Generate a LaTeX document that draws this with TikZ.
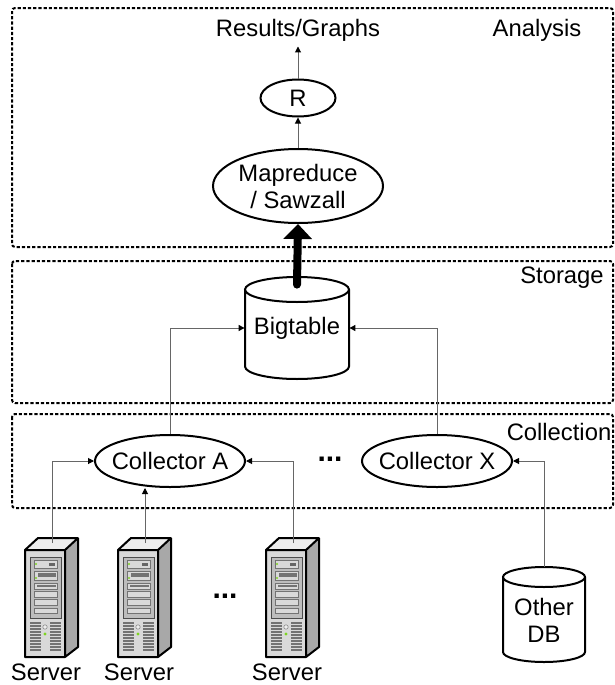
\documentclass[tikz,border=0pt]{standalone}
\usepackage{fontspec}
\setmainfont{Liberation Sans}
\usetikzlibrary{shapes.geometric,arrows.meta}
\definecolor{srvfront}{HTML}{D9D9D9}
\definecolor{srvtop}{HTML}{EDEDED}
\definecolor{srvside}{HTML}{A8A8A8}
\definecolor{srvbay}{HTML}{BDBDBD}
\definecolor{srvled}{HTML}{7ED321}
\begin{document}
\begin{tikzpicture}[x=0.5pt, y=-0.5pt,
    every node/.style={font=\fontsize{11.9}{13.5}\selectfont},
    box/.style={line width=1pt, dash pattern=on 1.6pt off 1pt, rounded corners=1.5pt},
    oval/.style={draw, ellipse, line width=1pt, inner sep=0pt, align=center},
    drum/.style={line width=1pt, fill=white},
    dots/.style={font=\fontsize{15}{15}\bfseries},
    conn/.style={draw=black!60, line width=0.5pt, -{Triangle[length=3pt,width=3pt,color=black]}}]

    \useasboundingbox (0,0) rectangle (615,685);

    % layers
    \draw[box] (12,8) rectangle (613,247);
    \draw[box] (12,261) rectangle (613,403);
    \draw[box] (12,414) rectangle (613,508);
    \node (ana) at (537,30) {Analysis};
    \node (sto) at (562,278) {Storage};
    \node (col) at (559,432) {Collection};

    % databases
    \draw[drum] (245,289.5) -- (245,366.5) arc[start angle=180, end angle=360, x radius=26pt, y radius=6.25pt]
      -- (349,289.5) (297,289.5) ellipse [x radius=26pt, y radius=6.25pt];
    \draw[drum] (503,577) -- (503,652) arc[start angle=180, end angle=360, x radius=20.5pt, y radius=5pt]
      -- (585,577) (544,577) ellipse [x radius=20.5pt, y radius=5pt];

    \node[inner sep=2.5pt] (res) at (298,30) {Results/Graphs};
    \node[oval, minimum width=37.5pt, minimum height=18.5pt] (r) at (298,98) {R};
    \node[oval, minimum width=85pt, minimum height=37pt] (mr) at (298,186) {Mapreduce\\/ Sawzall};
    \node[minimum width=52pt, minimum height=51pt, inner sep=0pt] (bt) at (297,328) {\raisebox{-2.5pt}{Bigtable}};
    \node[oval, minimum width=75pt, minimum height=26pt, inner xsep=-8pt] (ca) at (170,461) {Collector A};
    \node[dots] (dots1) at (330,459) {...};
    \node[oval, minimum width=75pt, minimum height=26pt, inner xsep=-8pt] (cx) at (437,461) {Collector X};
    \node[minimum width=41pt, minimum height=53pt, inner sep=0pt, align=center] (odb) at (544,620) {Other\\DB};
    \node[dots] (dots2) at (225,596) {...};

    % servers
    \foreach \n/\x in {1/25, 2/118, 3/266} {
      \begin{scope}[shift={(\x,550)}]
        \fill[srvtop] (0,0) -- (13,-12) -- (53,-12) -- (40,0) -- cycle;
        \fill[srvside] (40,0) -- (53,-12) -- (53,97) -- (40,107) -- cycle;
        \fill[srvfront] (0,0) rectangle (40,107);
        \draw[line width=1pt, line join=round] (0,0) -- (13,-12) -- (53,-12) -- (53,97)
          -- (40,107) -- (0,107) -- cycle (0,0) -- (40,0) -- (53,-12) (40,0) -- (40,107);
        \filldraw[fill=srvbay, draw=black!70, line width=0.4pt] (5,7) rectangle (36,68);
        \foreach \a/\b in {10/18, 21/30, 33/39, 41/47, 49/55, 58/63}
          \filldraw[fill=srvfront, draw=black!55, line width=0.3pt] (9,\a) rectangle (32,\b);
        \fill[black!60] (24,13) rectangle (30,16);
        \fill[black!55] (13,23) rectangle (31,27);
        \fill[black!55] (12,35) rectangle (31,37);
        \fill[srvled] (11,14) circle (0.6pt) (11,28) circle (0.6pt);
        \foreach \v in {73,76,...,100}
          \draw[black!55, line width=0.6pt] (5,\v) -- (16,\v) (25,\v) -- (36,\v);
        \filldraw[fill=srvtop, draw=black!45, line width=0.3pt] (20,77) circle (1.1pt);
        \fill[srvled] (20,84) circle (0.8pt);
      \end{scope}
      \coordinate (srv\n) at (\x+27,543);
      \node (lbl\n) at (\x+21,672) {Server};
    }

    % connectors
    \draw[conn] (srv1) |- (ca.west);
    \draw[conn] (srv2) -- (srv2 |- ca.south);
    \draw[conn] (srv3) |- (ca.east);
    \draw[conn] (odb.north) |- (cx.east);
    \draw[conn] (ca.north) |- (bt.west);
    \draw[conn] (cx.north) |- (bt.east);
    \draw[line width=4pt, line cap=round, -{Triangle[length=7.5pt,width=14pt]}] ([yshift=-4pt]bt.north) -- (mr.south);
    \draw[conn] (mr.north) -- (r.south);
    \draw[conn] (r.north) -- (res.south);

\end{tikzpicture}
\end{document}
